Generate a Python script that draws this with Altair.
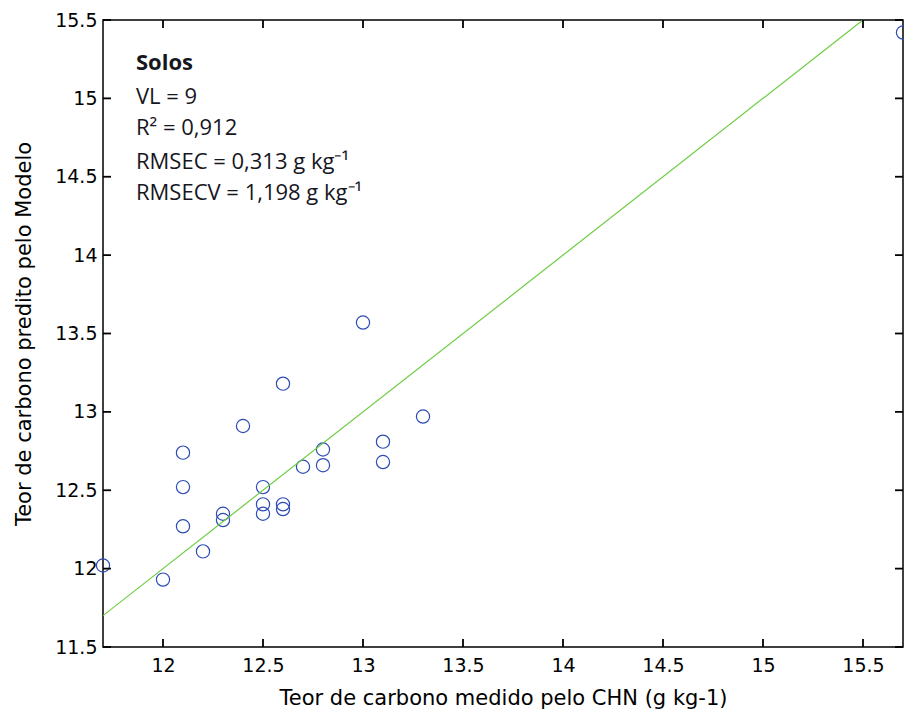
import altair as alt
import pandas as pd

# measured (CHN) vs predicted carbon content
x_meas = [11.7, 12.0, 12.2, 12.1, 12.1, 12.1, 12.3, 12.3, 12.4, 12.5, 12.5, 12.5,
          12.6, 12.6, 12.6, 12.7, 12.8, 12.8, 13.0, 13.1, 13.1, 13.3, 15.7]
y_pred = [12.02, 11.93, 12.11, 12.27, 12.52, 12.74, 12.35, 12.31, 12.91, 12.52, 12.41, 12.35,
          12.41, 12.38, 13.18, 12.65, 12.76, 12.66, 13.57, 12.81, 12.68, 12.97, 15.42]

# 1:1 reference line
line_x = [11.7, 15.5]
line_y = [11.7, 15.5]

x_ticks = [12, 12.5, 13, 13.5, 14, 14.5, 15, 15.5]
y_ticks = [11.5, 12, 12.5, 13, 13.5, 14, 14.5, 15, 15.5]
x_domain = [11.7, 15.7]
y_domain = [11.5, 15.5]

ann_title = "Solos"
ann_lines = ["VL = 9", "R\u00b2 = 0,912", "RMSEC = 0,313 g kg\u207b\u00b9", "RMSECV = 1,198 g kg\u207b\u00b9"]

x_title = "Teor de carbono medido pelo CHN (g kg-1)"
y_title = "Teor de carbono predito pelo Modelo"

W, H = 800, 627
FONT = "DejaVu Sans"
TL = 8  # inside tick length

pts = pd.DataFrame({"x": x_meas, "y": y_pred})
ln = pd.DataFrame({"x": line_x, "y": line_y})
xt = pd.DataFrame({"t": x_ticks})
yt = pd.DataFrame({"t": y_ticks})

xs = alt.Scale(domain=x_domain, nice=False, zero=False)
ys = alt.Scale(domain=y_domain, nice=False, zero=False)

points = alt.Chart(pts).mark_point(
    shape="circle", filled=False, size=175, color="#2d4bb5", strokeWidth=1.2, opacity=1
).encode(
    x=alt.X("x:Q", scale=xs, axis=alt.Axis(
        values=x_ticks, format="~g", title=x_title, ticks=False, tickSize=0, domain=False,
        grid=False, labelFont=FONT, labelFontSize=19, labelColor="#000", labelPadding=9,
        titleFont=FONT, titleFontSize=21, titleFontWeight="normal", titleColor="#000",
        titlePadding=12, labelFlush=False)),
    y=alt.Y("y:Q", scale=ys, axis=alt.Axis(
        values=y_ticks, format="~g", title=y_title, ticks=False, tickSize=0, domain=False,
        grid=False, labelFont=FONT, labelFontSize=19, labelColor="#000", labelPadding=6,
        titleFont=FONT, titleFontSize=21, titleFontWeight="normal", titleColor="#000",
        titlePadding=20, labelFlush=False)),
)

line = alt.Chart(ln).mark_line(color="#6ccc40", strokeWidth=1.2, clip=True).encode(
    x=alt.X("x:Q", scale=xs),
    y=alt.Y("y:Q", scale=ys),
)

tick_style = dict(color="#000", strokeWidth=1.8)
# inside ticks: bottom, top (x) and left, right (y)
xb = alt.Chart(xt).mark_rule(**tick_style).encode(
    x=alt.X("t:Q", scale=xs), y=alt.value(H), y2=alt.value(H - TL))
xtop = alt.Chart(xt).mark_rule(**tick_style).encode(
    x=alt.X("t:Q", scale=xs), y=alt.value(0), y2=alt.value(TL))
yl = alt.Chart(yt).mark_rule(**tick_style).encode(
    y=alt.Y("t:Q", scale=ys), x=alt.value(0), x2=alt.value(TL))
yr = alt.Chart(yt).mark_rule(**tick_style).encode(
    y=alt.Y("t:Q", scale=ys), x=alt.value(W), x2=alt.value(W - TL))

ANN_FONT = "Open Sans"
ANN_COLOR = "#16161e"


def ann(text, ypix, bold=False):
    return alt.Chart(pd.DataFrame({"label": [text]})).mark_text(
        font=ANN_FONT, fontSize=22, fontWeight="bold" if bold else "normal",
        align="left", baseline="middle", color=ANN_COLOR,
    ).encode(text="label:N", x=alt.value(33), y=alt.value(ypix))


texts = [ann(ann_title, 43, bold=True)]
for t, yy in zip(ann_lines, [77, 108, 142, 173]):
    texts.append(ann(t, yy))

chart = alt.layer(points, line, xb, xtop, yl, yr, *texts).properties(
    width=W, height=H,
    autosize=alt.AutoSizeParams(type="none"),
    padding={"left": 103, "top": 20, "right": 1, "bottom": 67},
    background="white",
).configure_view(stroke="#000", strokeWidth=1.5)

chart.save("out.html", embed_options={"renderer": "svg", "actions": False})
